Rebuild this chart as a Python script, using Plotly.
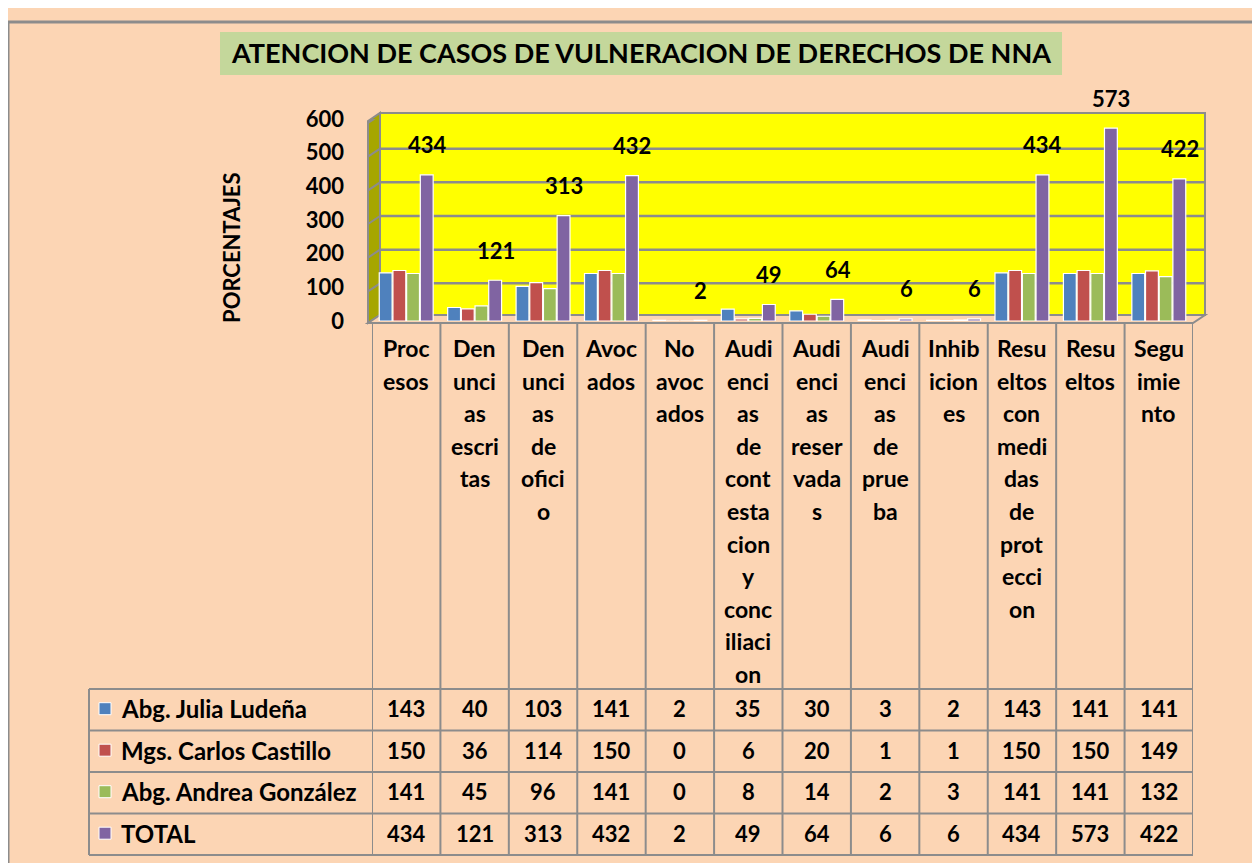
import plotly.graph_objects as go

# ---------------- data ----------------
categories = ["Procesos", "Denuncias escritas", "Denuncias de oficio", "Avocados",
              "No avocados", "Audiencias de contestacion y conciliacion",
              "Audiencias reservadas", "Audiencias de prueba", "Inhibiciones",
              "Resueltos con medidas de proteccion", "Resueltos", "Seguimiento"]
category_lines = [
    ["Proc", "esos"],
    ["Den", "unci", "as", "escri", "tas"],
    ["Den", "unci", "as", "de", "ofici", "o"],
    ["Avoc", "ados"],
    ["No", "avoc", "ados"],
    ["Audi", "enci", "as", "de", "cont", "esta", "cion", "y", "conc", "iliaci", "on"],
    ["Audi", "enci", "as", "reser", "vada", "s"],
    ["Audi", "enci", "as", "de", "prue", "ba"],
    ["Inhib", "icion", "es"],
    ["Resu", "eltos", "con", "medi", "das", "de", "prot", "ecci", "on"],
    ["Resu", "eltos"],
    ["Segu", "imie", "nto"],
]
series_names = ["Abg. Julia Ludeña", "Mgs. Carlos Castillo", "Abg. Andrea González", "TOTAL"]
julia = [143, 40, 103, 141, 2, 35, 30, 3, 2, 143, 141, 141]
carlos = [150, 36, 114, 150, 0, 6, 20, 1, 1, 150, 150, 149]
andrea = [141, 45, 96, 141, 0, 8, 14, 2, 3, 141, 141, 132]
total = [434, 121, 313, 432, 2, 49, 64, 6, 6, 434, 573, 422]
series_values = [julia, carlos, andrea, total]
y_ticks = [0, 100, 200, 300, 400, 500, 600]
title_text = "ATENCION DE CASOS DE VULNERACION DE DERECHOS DE NNA"
y_title = "PORCENTAJES"

# ---------------- style / layout helpers ----------------
FW, FH = 1244, 869
OX = 8                       # horizontal page offset of the figure
OY, SY = 20, 0.969           # vertical page offset / scale of the figure in the window
colors = ["#4F81BD", "#C0504D", "#9BBB59", "#8064A2"]
PEACH = "#FCD5B4"
GRID = "#8C8C8C"
FONT = "Lato"


def px(x):
    return (x - OX) / FW


def py(y):
    return 1 - ((y - OY) / SY) / FH


def bold(size):
    return dict(family=FONT, size=size, color="black", weight="bold")


fig = go.Figure()
for name, vals, col in zip(series_names, series_values, colors):
    fig.add_trace(go.Bar(
        x=categories, y=vals, name=name,
        marker=dict(color=col, line=dict(color="white", width=1.2)),
        showlegend=False, hoverinfo="x+y+name",
    ))

shapes = []
annotations = []

# outer frame edge
shapes.append(dict(type="rect", xref="paper", yref="paper", x0=0, x1=1.01, y0=-0.01, y1=1,
                   line=dict(color=GRID, width=3), layer="below"))
# title box
shapes.append(dict(type="rect", xref="paper", yref="paper", x0=px(220), x1=px(1062),
                   y0=py(73), y1=py(30), fillcolor="#C4D79B", line=dict(width=0),
                   layer="below"))
annotations.append(dict(text=title_text, xref="paper", yref="paper", x=px(641), y=py(51),
                        showarrow=False, xanchor="center", yanchor="middle", font=bold(27)))

# 3D walls
shapes.append(dict(type="path", xref="paper", yref="paper",
                   path=f"M {px(380)},{py(111)} L {px(1205)},{py(111)} L {px(1205)},{py(313)} L {px(380)},{py(313)} Z",
                   fillcolor="#FFFF00", line=dict(color=GRID, width=2), layer="below"))
shapes.append(dict(type="path", xref="paper", yref="paper",
                   path=f"M {px(368)},{py(119)} L {px(380)},{py(111)} L {px(380)},{py(313)} L {px(368)},{py(321)} Z",
                   fillcolor="#A6A600", line=dict(color=GRID, width=2), layer="below"))
shapes.append(dict(type="path", xref="paper", yref="paper",
                   path=f"M {px(368)},{py(321)} L {px(1193)},{py(321)} L {px(1205)},{py(313)} L {px(380)},{py(313)} Z",
                   fillcolor=PEACH, line=dict(color=GRID, width=2), layer="below"))
# gridlines on back wall and side wall (anchored to y axis values)
for v in y_ticks[1:]:
    shapes.append(dict(type="line", xref="paper", yref="y", x0=px(380), x1=px(1205),
                       ysizemode="pixel", yanchor=v, y0=4, y1=4,
                       line=dict(color=GRID, width=2.5), layer="below"))
    shapes.append(dict(type="line", xref="paper", yref="y", x0=px(368), x1=px(380),
                       ysizemode="pixel", yanchor=v, y0=-4, y1=4,
                       line=dict(color=GRID, width=2), layer="below"))

# data labels (TOTAL)
for c, v in zip(categories, total):
    annotations.append(dict(text=str(v), x=c, y=v, xref="x", yref="y", showarrow=False,
                            xshift=21, yshift=30, xanchor="center", yanchor="middle",
                            font=bold(22)))

# ---------------- data table ----------------
TABLE_TOP = 321
HEADER_BOTTOM = 687
row_edges = [687, 728.5, 770, 811.5, 853]
LEFT = 89
line_style = dict(color=GRID, width=2)
n = len(categories)
for k in range(n + 1):
    shapes.append(dict(type="line", xref="x", yref="paper", x0=k - 0.5, x1=k - 0.5,
                       y0=py(TABLE_TOP), y1=py(853), line=line_style))
shapes.append(dict(type="line", xref="paper", yref="paper", x0=px(LEFT), x1=px(LEFT),
                   y0=py(HEADER_BOTTOM), y1=py(853), line=line_style))
for ye in row_edges:
    shapes.append(dict(type="line", xref="paper", yref="paper", x0=px(LEFT), x1=px(1193),
                       y0=py(ye), y1=py(ye), line=line_style))

# header cells
for c, lines in zip(categories, category_lines):
    for i, t in enumerate(lines):
        annotations.append(dict(text=t, x=c, y=py(346 + 32.6 * i), xref="x", yref="paper",
                                showarrow=False, xanchor="center", yanchor="middle",
                                font=bold(23)))

# rows
for r, (name, vals, col) in enumerate(zip(series_names, series_values, colors)):
    yc = (row_edges[r] + row_edges[r + 1]) / 2 - 1
    shapes.append(dict(type="rect", xref="paper", yref="paper", x0=px(99), x1=px(111),
                       y0=py(yc + 6), y1=py(yc - 6), fillcolor=col,
                       line=dict(color="white", width=1)))
    annotations.append(dict(text=name, x=px(119), y=py(yc), xref="paper", yref="paper",
                            showarrow=False, xanchor="left", yanchor="middle", font=bold(24)))
    for c, v in zip(categories, vals):
        annotations.append(dict(text=str(v), x=c, y=py(yc), xref="x", yref="paper",
                                showarrow=False, xanchor="center", yanchor="middle",
                                font=bold(22)))

# y-axis title
annotations.append(dict(text=y_title, x=px(232), y=py(246), xref="paper", yref="paper",
                        showarrow=False, textangle=-90, xanchor="center", yanchor="middle",
                        font=bold(22)))

fig.update_layout(
    width=FW, height=FH,
    margin=dict(l=0, r=0, t=0, b=0),
    paper_bgcolor=PEACH,
    plot_bgcolor="rgba(0,0,0,0)",
    barmode="group", bargap=0.2, bargroupgap=0.06,
    shapes=shapes, annotations=annotations,
    xaxis=dict(domain=[px(372), px(1193)], range=[-0.5, n - 0.5], showticklabels=False,
               showgrid=False, zeroline=False, showline=False, fixedrange=True),
    yaxis=dict(domain=[py(319), py(117)], range=[0, 600], tickvals=y_ticks,
               showgrid=False, zeroline=False, showline=False, ticks="",
               ticklabelstandoff=27, tickfont=bold(22), fixedrange=True),
    font=dict(family=FONT),
)

fig.write_html("out.html")
